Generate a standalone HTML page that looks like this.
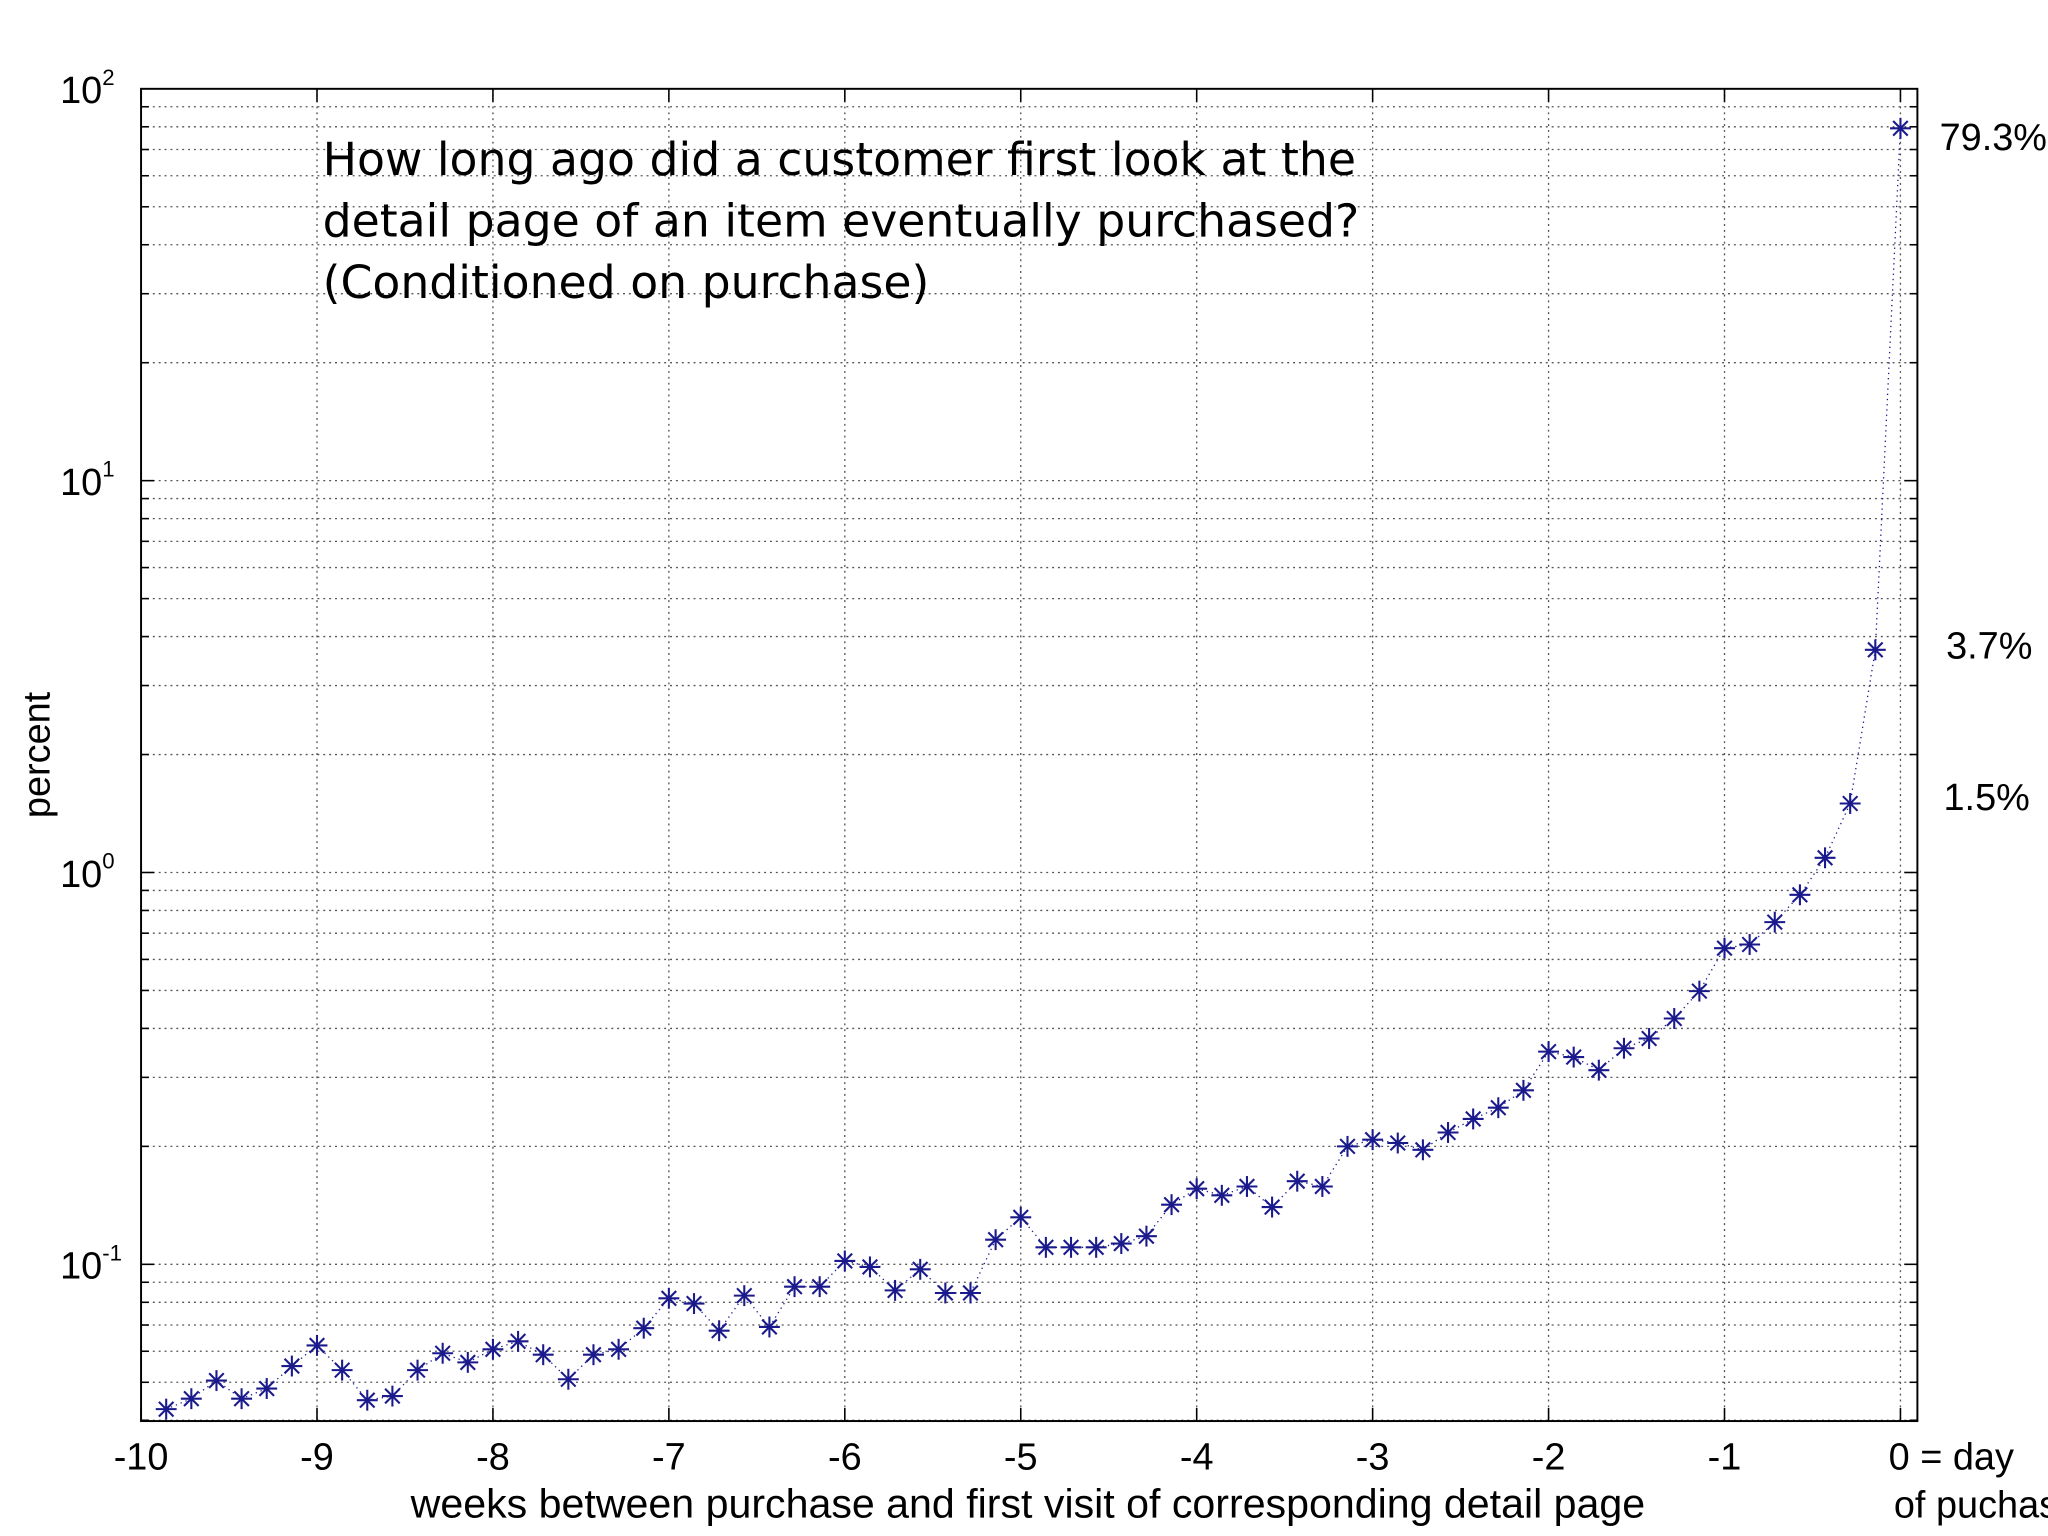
<!DOCTYPE html>
<html><head><meta charset="utf-8"><style>
html,body{margin:0;padding:0;background:#fff;}
svg{display:block;}
</style></head><body>
<svg id="chart" width="2048" height="1536" viewBox="0 0 1568 1176" xmlns="http://www.w3.org/2000/svg" font-family="Liberation Sans, sans-serif">
<rect width="1568" height="1176" fill="#fff"/>
<g id="grid"></g>
<rect x="108" y="68" width="1360" height="1020" fill="none" stroke="#000" stroke-width="1.5"/>
<g id="ticks"></g>
<g id="series"></g>
<g font-family="DejaVu Sans, sans-serif" font-size="35" fill="#000">
<text x="247" y="134">How long ago did a customer first look at the</text>
<text x="247" y="181">detail page of an item eventually purchased?</text>
<text x="247" y="228">(Conditioned on purchase)</text>
</g>
<g font-size="29" fill="#000">
<text x="1485" y="115">79.3%</text>
<text x="1490" y="504">3.7%</text>
<text x="1488" y="620">1.5%</text>
</g>
<text x="787" y="1162" font-size="31.5" text-anchor="middle">weeks between purchase and first visit of corresponding detail page</text>
<text x="1446" y="1125" font-size="29">0 = day</text>
<text x="1450" y="1162" font-size="29">of puchase</text>
<text transform="translate(38,578) rotate(-90)" font-size="29" text-anchor="middle">percent</text>
</svg>
<script>
const days = [];
for (let d = -69; d <= 0; d++) days.push(d);
const percents = [0.0427,0.0454,0.0505,0.0454,0.0482,0.055,0.0621,0.0537,0.045,0.0461,
0.0537,0.0593,0.0562,0.0607,0.0636,0.0588,0.0509,0.0588,0.0607,0.0687,
0.0819,0.0794,0.0677,0.0832,0.0692,0.0877,0.0877,0.102,0.0985,0.0858,
0.0971,0.0845,0.0845,0.1156,0.1318,0.1105,0.1105,0.1105,0.113,0.118,
0.142,0.156,0.150,0.158,0.140,0.163,0.158,0.200,0.208,0.204,
0.196,0.217,0.235,0.251,0.278,0.349,0.338,0.313,0.356,0.377,
0.424,0.498,0.641,0.655,0.747,0.877,1.09,1.5,3.7,79.3];
const xTicks = [-10,-9,-8,-7,-6,-5,-4,-3,-2,-1,0];
const yDecades = [-1,0,1,2];

const NS = "http://www.w3.org/2000/svg";
const L=108,R=1468,T=68,B=1088;
const xMin=-10,xMax=0.0963;
const yMaxE=2, yMinE=-1.4;
const xs = v => L + (v - xMin)/(xMax - xMin)*(R-L);
const ys = p => T + (yMaxE - Math.log10(p))/(yMaxE - yMinE)*(B-T);
function mk(tag, attrs, parent){const e=document.createElementNS(NS,tag);for(const k in attrs)e.setAttribute(k,attrs[k]);parent.appendChild(e);return e;}
const grid=document.getElementById('grid'), ticks=document.getElementById('ticks'), series=document.getElementById('series');
xTicks.forEach(t=>{
  const x=xs(t);
  const g=mk('line',{x1:x,x2:x,y1:T,y2:B,stroke:'#555','stroke-width':1,'stroke-dasharray':'1.5,3'},grid);
  
  
  mk('line',{x1:x,x2:x,y1:B,y2:B-10,stroke:'#000','stroke-width':1.2},ticks);
  mk('line',{x1:x,x2:x,y1:T,y2:T+10,stroke:'#000','stroke-width':1.2},ticks);
  if(t!==0){
    const lb=mk('text',{x:x,y:1125,'font-size':29,'text-anchor':'middle'},ticks);
    lb.textContent=String(t);
    
    
  }
});
for(let e=-2;e<2;e++){
  for(let m=1;m<10;m++){
    const p=m*Math.pow(10,e);
    const y=ys(p);
    if(y<T-0.5||y>B+0.5)continue;
    const g=mk('line',{x1:L,x2:R,y1:y,y2:y,stroke:'#555','stroke-width':1,'stroke-dasharray':'1.5,3'},grid);
    
    
    const len=m===1?10:6;
    mk('line',{x1:L,x2:L+len,y1:y,y2:y,stroke:'#000','stroke-width':1.2},ticks);
    mk('line',{x1:R,x2:R-len,y1:y,y2:y,stroke:'#000','stroke-width':1.2},ticks);
  }
}
yDecades.forEach(e=>{
  const y=ys(Math.pow(10,e));
  const t=mk('text',{x:46,y:y+11,'font-size':29},ticks);
  
  
  t.textContent='10';
  const s=mk('tspan',{dy:-14,'font-size':17},t);
  s.textContent=String(e);
});
const pts=days.map((d,i)=>xs(d/7).toFixed(1)+','+ys(percents[i]).toFixed(1)).join(' ');
const pl=mk('polyline',{points:pts,fill:'none',stroke:'#1a1a8c','stroke-width':1,'stroke-dasharray':'1,3'},series);


days.forEach((d,i)=>{
  const x=xs(d/7), y=ys(percents[i]), r=8;
  const g=mk('g',{stroke:'#1a1a8c','stroke-width':1.6},series);
  
  
  mk('line',{x1:x-r,x2:x+r,y1:y,y2:y},g);
  mk('line',{x1:x,x2:x,y1:y-r,y2:y+r},g);
  mk('line',{x1:x-r*0.7,x2:x+r*0.7,y1:y-r*0.7,y2:y+r*0.7},g);
  mk('line',{x1:x-r*0.7,x2:x+r*0.7,y1:y+r*0.7,y2:y-r*0.7},g);
});
</script>
</body></html>
